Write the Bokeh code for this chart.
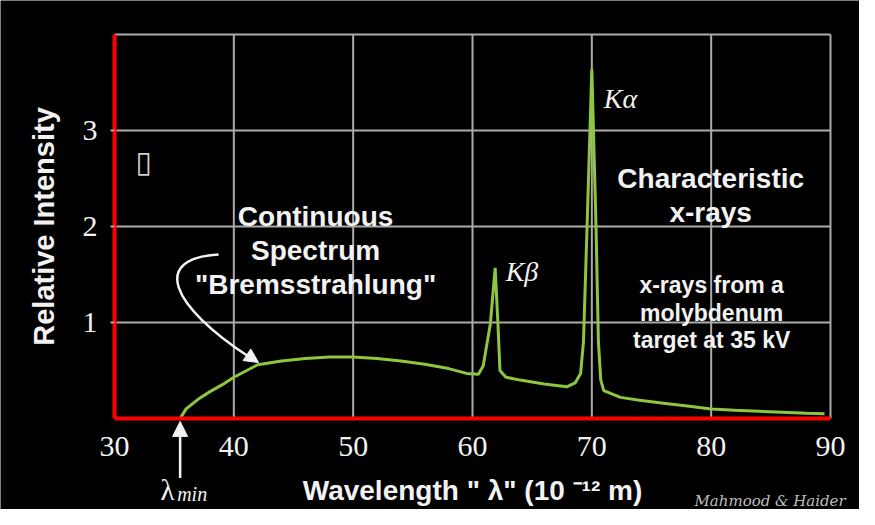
from bokeh.plotting import figure
from bokeh.models import FixedTicker, Arrow, NormalHead, Label
from bokeh.embed import file_html
from bokeh.resources import INLINE

# ---- data ----
wavelength = [35.5, 36.0, 37.0, 38.0, 39.0, 40.0, 42.0, 44.0, 46.0, 48.0, 50.0,
              52.0, 54.0, 56.0, 58.0, 59.5, 60.5, 60.9, 61.5, 61.9, 62.13, 62.3,
              62.8, 64.0, 66.0, 67.9, 68.6, 69.06, 69.3, 69.6, 70.0, 70.35, 70.55,
              70.75, 71.0, 72.4, 74.0, 76.0, 78.0, 80.0, 82.0, 84.0, 86.0, 88.0, 89.5]
intensity = [0.0, 0.10, 0.20, 0.28, 0.35, 0.43, 0.56, 0.60, 0.625, 0.64, 0.64,
             0.625, 0.60, 0.565, 0.52, 0.47, 0.46, 0.55, 0.99, 1.57, 0.99, 0.50,
             0.43, 0.40, 0.36, 0.33, 0.37, 0.47, 0.80, 2.00, 3.64, 2.00, 0.80,
             0.40, 0.29, 0.22, 0.19, 0.16, 0.13, 0.10, 0.085, 0.075, 0.065, 0.055, 0.05]
x_ticks = [30, 40, 50, 60, 70, 80, 90]
y_ticks = [1, 2, 3]
x_min, x_max = 30, 90
y_min, y_max = 0, 4
lambda_min = 35.5

WHITE = "#F2F2F2"
GRID = "#ABABAB"
GREEN = "#8DC63F"
SANS = "Liberation Sans"
SERIF = "Liberation Serif"

# The frame covers the whole canvas so that nothing (tick label "30", the
# lambda_min pointer, the watermark) is clipped; both axes are placed at the
# data origin with fixed_location and limited with bounds.
p = figure(width=859, height=509, x_range=(20.447, 92.430), y_range=(-0.9479, 4.3542),
           output_backend="svg", toolbar_location=None,
           min_border_left=0, min_border_right=0,
           min_border_top=0, min_border_bottom=0)

p.background_fill_color = "black"
p.border_fill_color = "black"
p.outline_line_color = None
p.xgrid.visible = False
p.ygrid.visible = False

# grid (plot area 30..90 x 0..4), drawn from the tick arrays
vx = [t for t in x_ticks if t > x_min]
p.segment(x0=vx, y0=[y_min] * len(vx), x1=vx, y1=[y_max] * len(vx),
          line_color=GRID, line_width=2)
hy = y_ticks + [y_max]
p.segment(x0=[x_min] * len(hy), y0=hy, x1=[x_max] * len(hy), y1=hy,
          line_color=GRID, line_width=2)

for ax in (p.xaxis, p.yaxis):
    ax.axis_line_color = "#FF0000"
    ax.axis_line_width = 4
    ax.minor_tick_line_color = None
    ax.major_label_text_font = SERIF
    ax.major_label_text_font_size = "30px"
    ax.major_label_text_color = WHITE
    ax.axis_label_text_font = SANS
    ax.axis_label_text_font_style = "bold"
    ax.axis_label_text_color = WHITE

p.xaxis.ticker = FixedTicker(ticks=x_ticks)
p.xaxis.fixed_location = y_min
p.xaxis.bounds = (x_min, x_max)
p.xaxis.major_tick_line_color = None
p.xaxis.major_label_standoff = 12
p.xaxis.axis_label = 'Wavelength " λ" (10 ⁻¹² m)'
p.xaxis.axis_label_text_font_size = "28px"
p.xaxis.axis_label_standoff = 16

p.yaxis.ticker = FixedTicker(ticks=y_ticks)
p.yaxis.fixed_location = x_min
p.yaxis.bounds = (y_min, y_max)
p.yaxis.major_tick_line_color = GRID
p.yaxis.major_tick_line_width = 2
p.yaxis.major_tick_out = 4
p.yaxis.major_tick_in = 0
p.yaxis.major_label_standoff = 13
p.yaxis.axis_label = "Relative Intensity"
p.yaxis.axis_label_text_font_size = "29px"
p.yaxis.axis_label_standoff = 20

# spectrum
p.line(wavelength, intensity, line_color=GREEN, line_width=3)

# curved pointer from the "Bremsstrahlung" text to the curve
p.bezier(x0=[38.72], y0=[1.708], cx0=[33.02], cy0=[1.667],
         cx1=[34.69], cy1=[1.177], x1=[41.30], y1=[0.64],
         line_color=WHITE, line_width=2.5)
p.add_layout(Arrow(end=NormalHead(size=14, fill_color=WHITE, line_color=WHITE),
                   x_start=41.06, y_start=0.667, x_end=42.07, y_end=0.583,
                   line_color=WHITE, line_width=2.5))

# lambda_min pointer
p.add_layout(Arrow(end=NormalHead(size=15, fill_color=WHITE, line_color=WHITE),
                   x_start=lambda_min, y_start=-0.62, x_end=lambda_min, y_end=-0.03,
                   line_color=WHITE, line_width=2.5))

def lab(x, y, txt, size, font=SANS, style="bold", align="center", color=WHITE, lh=1.1):
    p.add_layout(Label(x=x, y=y, text=txt, text_font=font, text_font_style=style,
                       text_font_size=size, text_color=color, text_align=align,
                       text_baseline="middle", text_line_height=lh))

lab(46.85, 1.75, 'Continuous\nSpectrum\n"Bremsstrahlung"', "28px", lh=1.09)
lab(79.96, 2.32, "Characteristic\nx-rays", "28px", lh=1.09)
lab(80.04, 1.10, "x-rays from a\nmolybdenum\ntarget at 35 kV", "23px", lh=1.06)
lab(71.0, 3.33, "Kα", "28px", font=SERIF, style="italic", align="left")
lab(62.78, 1.53, "Kβ", "28px", font=SERIF, style="italic", align="left")
lab(32.43, 2.68, "▯", "30px", font="DejaVu Sans", style="normal", color="#CFCFCF")
lab(34.44, -0.74, "λ", "29px", font=SERIF, style="normal")
lab(35.25, -0.79, "min", "20px", font=SERIF, style="italic", align="left")
lab(78.6, -0.86, "Mahmood & Haider", "15px", font="DejaVu Serif", style="italic",
    align="left", color="#BDBDBD")

open("out.html", "w").write(file_html(p, INLINE))
